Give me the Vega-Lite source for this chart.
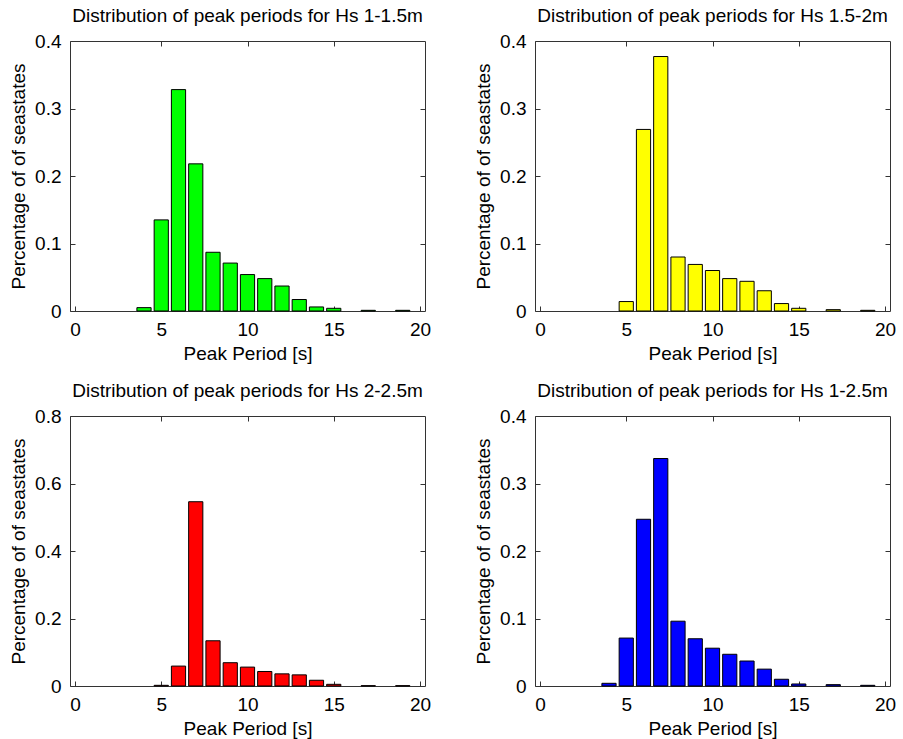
{
  "$schema": "https://vega.github.io/schema/vega-lite/v6.json",
  "background": "white",
  "padding": {"left": 9, "top": 6, "right": 0, "bottom": 0},
  "datasets": {
    "hs_1_15": [
      {"period": 4, "share": 0.005}, {"period": 5, "share": 0.135}, {"period": 6, "share": 0.328},
      {"period": 7, "share": 0.218}, {"period": 8, "share": 0.087}, {"period": 9, "share": 0.071},
      {"period": 10, "share": 0.054}, {"period": 11, "share": 0.048}, {"period": 12, "share": 0.037},
      {"period": 13, "share": 0.017}, {"period": 14, "share": 0.006}, {"period": 15, "share": 0.004},
      {"period": 17, "share": 0.001}, {"period": 19, "share": 0.001}
    ],
    "hs_15_2": [
      {"period": 5, "share": 0.014}, {"period": 6, "share": 0.269}, {"period": 7, "share": 0.377},
      {"period": 8, "share": 0.080}, {"period": 9, "share": 0.069}, {"period": 10, "share": 0.060},
      {"period": 11, "share": 0.048}, {"period": 12, "share": 0.044}, {"period": 13, "share": 0.030},
      {"period": 14, "share": 0.011}, {"period": 15, "share": 0.004}, {"period": 17, "share": 0.002},
      {"period": 19, "share": 0.001}
    ],
    "hs_2_25": [
      {"period": 5, "share": 0.002}, {"period": 6, "share": 0.059}, {"period": 7, "share": 0.546},
      {"period": 8, "share": 0.134}, {"period": 9, "share": 0.069}, {"period": 10, "share": 0.056},
      {"period": 11, "share": 0.043}, {"period": 12, "share": 0.036}, {"period": 13, "share": 0.033},
      {"period": 14, "share": 0.017}, {"period": 15, "share": 0.005}, {"period": 17, "share": 0.001},
      {"period": 19, "share": 0.001}
    ],
    "hs_1_25": [
      {"period": 4, "share": 0.004}, {"period": 5, "share": 0.071}, {"period": 6, "share": 0.247},
      {"period": 7, "share": 0.337}, {"period": 8, "share": 0.096}, {"period": 9, "share": 0.070},
      {"period": 10, "share": 0.056}, {"period": 11, "share": 0.047}, {"period": 12, "share": 0.037},
      {"period": 13, "share": 0.025}, {"period": 14, "share": 0.010}, {"period": 15, "share": 0.003},
      {"period": 17, "share": 0.002}, {"period": 19, "share": 0.001}
    ]
  },
  "columns": 2,
  "bounds": "flush",
  "spacing": {"row": 105, "column": 110},
  "concat": [
    {
      "width": 355, "height": 270,
      "title": {"text": "Distribution of peak periods for Hs 1-1.5m", "fontSize": 19},
      "data": {"name": "hs_1_15"},
      "resolve": {"axis": {"x": "independent", "y": "independent"}},
      "layer": [
        {
          "mark": {"type": "bar", "width": 14.2, "fill": "#00ff00", "stroke": "#000000", "strokeWidth": 1},
          "encoding": {
            "x": {"field": "period", "type": "quantitative", "scale": {"domain": [0, 20], "nice": false},
                  "axis": {"orient": "bottom", "title": "Peak Period [s]", "values": [0, 5, 10, 15, 20]}},
            "y": {"field": "share", "type": "quantitative", "scale": {"domain": [0, 0.4], "nice": false},
                  "axis": {"orient": "left", "title": "Percentage of of seastates", "values": [0, 0.1, 0.2, 0.3, 0.4], "format": "~g"}}
          }
        },
        {
          "mark": {"type": "bar", "width": 14.2, "opacity": 0},
          "encoding": {
            "x": {"field": "period", "type": "quantitative",
                  "axis": {"orient": "top", "title": null, "labels": false, "values": [5, 10, 15]}},
            "y": {"field": "share", "type": "quantitative",
                  "axis": {"orient": "right", "title": null, "labels": false, "values": [0.1, 0.2, 0.3]}}
          }
        }
      ]
    },
    {
      "width": 355, "height": 270,
      "title": {"text": "Distribution of peak periods for Hs 1.5-2m", "fontSize": 19},
      "data": {"name": "hs_15_2"},
      "resolve": {"axis": {"x": "independent", "y": "independent"}},
      "layer": [
        {
          "mark": {"type": "bar", "width": 14.2, "fill": "#ffff00", "stroke": "#000000", "strokeWidth": 1},
          "encoding": {
            "x": {"field": "period", "type": "quantitative", "scale": {"domain": [0, 20], "nice": false},
                  "axis": {"orient": "bottom", "title": "Peak Period [s]", "values": [0, 5, 10, 15, 20]}},
            "y": {"field": "share", "type": "quantitative", "scale": {"domain": [0, 0.4], "nice": false},
                  "axis": {"orient": "left", "title": "Percentage of of seastates", "values": [0, 0.1, 0.2, 0.3, 0.4], "format": "~g"}}
          }
        },
        {
          "mark": {"type": "bar", "width": 14.2, "opacity": 0},
          "encoding": {
            "x": {"field": "period", "type": "quantitative",
                  "axis": {"orient": "top", "title": null, "labels": false, "values": [5, 10, 15]}},
            "y": {"field": "share", "type": "quantitative",
                  "axis": {"orient": "right", "title": null, "labels": false, "values": [0.1, 0.2, 0.3]}}
          }
        }
      ]
    },
    {
      "width": 355, "height": 270,
      "title": {"text": "Distribution of peak periods for Hs 2-2.5m", "fontSize": 19},
      "data": {"name": "hs_2_25"},
      "resolve": {"axis": {"x": "independent", "y": "independent"}},
      "layer": [
        {
          "mark": {"type": "bar", "width": 14.2, "fill": "#ff0000", "stroke": "#000000", "strokeWidth": 1},
          "encoding": {
            "x": {"field": "period", "type": "quantitative", "scale": {"domain": [0, 20], "nice": false},
                  "axis": {"orient": "bottom", "title": "Peak Period [s]", "values": [0, 5, 10, 15, 20]}},
            "y": {"field": "share", "type": "quantitative", "scale": {"domain": [0, 0.8], "nice": false},
                  "axis": {"orient": "left", "title": "Percentage of of seastates", "values": [0, 0.2, 0.4, 0.6, 0.8], "format": "~g"}}
          }
        },
        {
          "mark": {"type": "bar", "width": 14.2, "opacity": 0},
          "encoding": {
            "x": {"field": "period", "type": "quantitative",
                  "axis": {"orient": "top", "title": null, "labels": false, "values": [5, 10, 15]}},
            "y": {"field": "share", "type": "quantitative",
                  "axis": {"orient": "right", "title": null, "labels": false, "values": [0.2, 0.4, 0.6]}}
          }
        }
      ]
    },
    {
      "width": 355, "height": 270,
      "title": {"text": "Distribution of peak periods for Hs 1-2.5m", "fontSize": 19},
      "data": {"name": "hs_1_25"},
      "resolve": {"axis": {"x": "independent", "y": "independent"}},
      "layer": [
        {
          "mark": {"type": "bar", "width": 14.2, "fill": "#0000ff", "stroke": "#000000", "strokeWidth": 1},
          "encoding": {
            "x": {"field": "period", "type": "quantitative", "scale": {"domain": [0, 20], "nice": false},
                  "axis": {"orient": "bottom", "title": "Peak Period [s]", "values": [0, 5, 10, 15, 20]}},
            "y": {"field": "share", "type": "quantitative", "scale": {"domain": [0, 0.4], "nice": false},
                  "axis": {"orient": "left", "title": "Percentage of of seastates", "values": [0, 0.1, 0.2, 0.3, 0.4], "format": "~g"}}
          }
        },
        {
          "mark": {"type": "bar", "width": 14.2, "opacity": 0},
          "encoding": {
            "x": {"field": "period", "type": "quantitative",
                  "axis": {"orient": "top", "title": null, "labels": false, "values": [5, 10, 15]}},
            "y": {"field": "share", "type": "quantitative",
                  "axis": {"orient": "right", "title": null, "labels": false, "values": [0.1, 0.2, 0.3]}}
          }
        }
      ]
    }
  ],
  "config": {
    "font": "Liberation Sans",
    "view": {"stroke": "#333333", "strokeWidth": 1},
    "title": {"font": "Liberation Sans", "fontSize": 19, "fontWeight": "normal", "color": "#000000", "anchor": "middle", "offset": 6},
    "axis": {
      "domain": false,
      "grid": false,
      "ticks": true,
      "tickSize": -5,
      "tickColor": "#333333",
      "labelFont": "Liberation Sans",
      "labelFontSize": 19,
      "labelColor": "#000000",
      "labelPadding": 14,
      "labelFlush": false,
      "labelOverlap": false,
      "titleFont": "Liberation Sans",
      "titleFontSize": 19,
      "titleFontWeight": "normal",
      "titleColor": "#000000",
      "titlePadding": 6
    },
    "axisBottom": {"titlePadding": 5}
  }
}
